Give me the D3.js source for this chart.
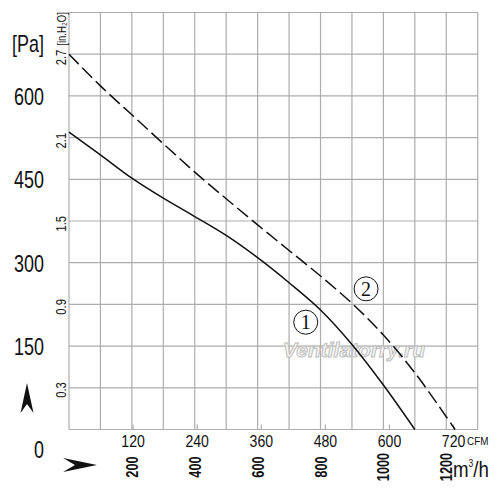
<!DOCTYPE html>
<html>
<head>
<meta charset="utf-8">
<script src="https://cdn.jsdelivr.net/npm/d3@7"></script>
<style>
  body { margin: 0; background: #fff; }
  text { font-family: "Liberation Sans", Arial, sans-serif; fill: #111; }
</style>
</head>
<body>
<svg id="chart" width="500" height="498"></svg>
<script>
// curve 1 (solid) and curve 2 (dashed), flow in m3/h, pressure in Pa
const flow1 = [0, 100, 200, 300, 400, 500, 600, 700, 800, 900, 1000, 1100];
const pres1 = [535, 494, 452, 416, 383, 349, 309, 264, 215, 153, 80, 0];
const flow2 = [0, 100, 200, 300, 400, 500, 600, 700, 800, 900, 1000, 1100, 1200, 1228];
const pres2 = [675, 618, 566, 514, 463, 415, 368, 322, 276, 227, 170, 102, 23, 0];

const paTicks = [0, 150, 300, 450, 600];
const inchTicks = [0.3, 0.9, 1.5, 2.1, 2.7];
const cfmTicks = [120, 240, 360, 480, 600, 720];
const m3hTicks = [200, 400, 600, 800, 1000, 1200];

const PA_PER_INCH = 249.09, M3H_PER_CFM = 1.699;

const svg = d3.select("#chart");

// plot frame
const x = d3.scaleLinear().domain([0, 1300]).range([69, 477.7]);
const y = d3.scaleLinear().domain([0, 750]).range([429.5, 12.5]);

// grid: every 100 m3/h and every 75 Pa
const grid = svg.append("g")
  .attr("stroke", "#adadad")
  .attr("stroke-width", 1.2);

grid.selectAll("line.v")
  .data(d3.range(0, 1301, 100))
  .join("line")
  .attr("class", "v")
  .attr("x1", d => x(d)).attr("x2", d => x(d))
  .attr("y1", y(0)).attr("y2", y(750));

grid.selectAll("line.h")
  .data(d3.range(0, 751, 75))
  .join("line")
  .attr("class", "h")
  .attr("x1", x(0)).attr("x2", x(1300))
  .attr("y1", d => y(d)).attr("y2", d => y(d));

// small CFM ticks on the bottom edge
grid.selectAll("line.t")
  .data(cfmTicks)
  .join("line")
  .attr("class", "t")
  .attr("x1", d => x(d * M3H_PER_CFM)).attr("x2", d => x(d * M3H_PER_CFM))
  .attr("y1", y(0)).attr("y2", y(0) - 5);

// watermark
svg.append("text")
  .attr("x", 354).attr("y", 357)
  .attr("text-anchor", "middle")
  .style("font-style", "italic")
  .style("font-weight", "bold")
  .style("font-size", "21px")
  .style("fill", "#f6f6f6")
  .style("stroke", "#bdbdbd")
  .style("stroke-width", 1)
  .text("Ventilatorry.ru");

// curves
const line = d3.line()
  .x(d => x(d[0]))
  .y(d => y(d[1]))
  .curve(d3.curveCatmullRom);

svg.append("path")
  .datum(d3.zip(flow1, pres1))
  .attr("fill", "none")
  .attr("stroke", "#111")
  .attr("stroke-width", 1.5)
  .attr("d", line);

svg.append("path")
  .datum(d3.zip(flow2, pres2))
  .attr("fill", "none")
  .attr("stroke", "#111")
  .attr("stroke-width", 1.5)
  .attr("stroke-dasharray", "14,5")
  .attr("d", line);

// curve markers (1) and (2)
const marks = [
  { n: "1", f: 753, p: 193 },
  { n: "2", f: 945, p: 253 }
];
const mk = svg.selectAll("g.mark")
  .data(marks)
  .join("g")
  .attr("class", "mark")
  .attr("transform", d => `translate(${x(d.f)},${y(d.p)})`);
mk.append("circle")
  .attr("r", 12)
  .attr("fill", "#fff")
  .attr("stroke", "#111")
  .attr("stroke-width", 1);
mk.append("text")
  .attr("text-anchor", "middle")
  .attr("dy", "0.36em")
  .style("font-family", "'Liberation Serif', 'DejaVu Serif', serif")
  .style("font-size", "20px")
  .text(d => d.n);

// Pa labels, left (condensed with a horizontal squeeze)
svg.append("text")
  .attr("transform", "translate(44,52) scale(0.78,1)")
  .attr("text-anchor", "end")
  .style("font-size", "23px")
  .text("[Pa]");

svg.selectAll("text.pa")
  .data(paTicks)
  .join("text")
  .attr("class", "pa")
  .attr("transform", d => `translate(44,${d === 0 ? y(d) + 28 : y(d) + 9}) scale(0.78,1)`)
  .attr("text-anchor", "end")
  .style("font-size", "23px")
  .text(d => d);

// in.H2O labels, rotated
svg.selectAll("text.inch")
  .data(inchTicks)
  .join("text")
  .attr("class", "inch")
  .attr("transform", d => `translate(66,${y(d * PA_PER_INCH) + 2}) rotate(-90) scale(0.8,1)`)
  .attr("text-anchor", "middle")
  .style("font-size", "14px")
  .text(d => d3.format(".1f")(d));

svg.append("text")
  .attr("transform", "translate(66,29) rotate(-90) scale(0.8,1)")
  .attr("text-anchor", "middle")
  .style("font-size", "12px")
  .text("[in.H\u2082O]");

// CFM labels
svg.selectAll("text.cfm")
  .data(cfmTicks)
  .join("text")
  .attr("class", "cfm")
  .attr("transform", d => `translate(${x(d * M3H_PER_CFM)},447) scale(0.88,1)`)
  .attr("text-anchor", "middle")
  .style("font-size", "16px")
  .text(d => d);

svg.append("text")
  .attr("transform", "translate(467,445) scale(0.9,1)")
  .style("font-size", "11px")
  .text("CFM");

// m3/h labels, rotated
svg.selectAll("text.m3h")
  .data(m3hTicks)
  .join("text")
  .attr("class", "m3h")
  .attr("transform", d => `translate(${x(d) + 6},467) rotate(-90) scale(0.75,1)`)
  .attr("text-anchor", "middle")
  .style("font-size", "17px")
  .style("font-weight", "bold")
  .text(d => d);

const unit = svg.append("text")
  .attr("transform", "translate(453,477) scale(0.85,1)")
  .style("font-size", "22px");
unit.append("tspan").text("m");
unit.append("tspan").attr("dy", -10).style("font-size", "10px").text("3");
unit.append("tspan").attr("dy", 10).text("/h");

// arrows
svg.append("path")
  .attr("d", "M27,383 L33.5,413 L27,404 L20.5,413 Z")
  .attr("fill", "#111");
svg.append("path")
  .attr("d", "M97,465 L63,458 L75,465 L63,472 Z")
  .attr("fill", "#111");
</script>
</body>
</html>
